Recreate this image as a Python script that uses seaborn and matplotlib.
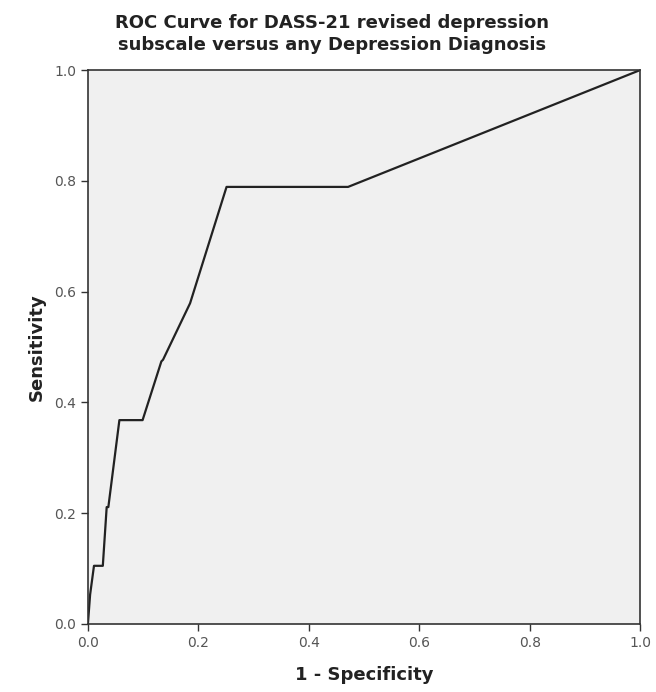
import pandas as pd
import matplotlib
matplotlib.use("Agg")
import matplotlib.pyplot as plt
import seaborn as sns

# ROC curve points
fpr = [0.0, 0.004, 0.011, 0.027, 0.034, 0.037, 0.057, 0.099, 0.133, 0.136, 0.185, 0.251, 0.471, 1.0]
tpr = [0.0, 0.053, 0.105, 0.105, 0.211, 0.211, 0.368, 0.368, 0.474, 0.477, 0.579, 0.789, 0.789, 1.0]
ticks = [0.0, 0.2, 0.4, 0.6, 0.8, 1.0]

df = pd.DataFrame({"fpr": fpr, "tpr": tpr})

sns.set_style("ticks")
plt.rcParams["font.family"] = ["DejaVu Sans"]

fig = plt.figure(figsize=(6.56, 6.92), dpi=100)
ax = fig.add_axes([0.134, 0.0983, 0.842, 0.8005])
ax.set_facecolor("#f0f0f0")

sns.lineplot(data=df, x="fpr", y="tpr", sort=False, color="#222222", linewidth=1.6, ax=ax)

ax.set_xlim(0, 1)
ax.set_ylim(0, 1)
ax.set_xticks(ticks)
ax.set_yticks(ticks)
ax.set_xticklabels([f"{t:.1f}" for t in ticks])
ax.set_yticklabels([f"{t:.1f}" for t in ticks])
ax.tick_params(axis="both", direction="out", length=5, width=1, colors="#333333",
               labelsize=10, labelcolor="#555555")
for s in ax.spines.values():
    s.set_color("#333333")
    s.set_linewidth(1.2)

ax.set_xlabel("1 - Specificity", fontsize=13, fontweight="bold", color="#222222", labelpad=12)
ax.set_ylabel("Sensitivity", fontsize=13, fontweight="bold", color="#222222", labelpad=6)

fig.text(0.506, 0.951, "ROC Curve for DASS-21 revised depression\nsubscale versus any Depression Diagnosis",
         ha="center", va="center", fontsize=13, fontweight="bold", color="#222222", linespacing=1.3)

fig.savefig("out.png", dpi=100)
plt.close(fig)
